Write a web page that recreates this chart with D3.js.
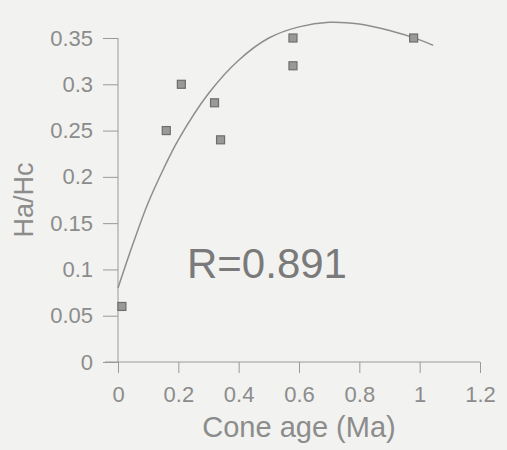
<!DOCTYPE html>
<html>
<head>
<meta charset="utf-8">
<script src="https://cdn.jsdelivr.net/npm/d3@7"></script>
<style>
  body { margin: 0; background: #f2f2f0; }
  svg { display: block; }
  .tick text { font-family: "Liberation Sans", Arial, sans-serif; fill: #8c8c8c; }
  .tick line { stroke: #9a9a9a; }
</style>
</head>
<body>
<div id="chart"></div>
<script>
// data
var coneAge = [0.013, 0.16, 0.21, 0.32, 0.34, 0.58, 0.58, 0.98];
var haHc = [0.06, 0.25, 0.30, 0.28, 0.24, 0.35, 0.32, 0.35];

// fitted curve
var fitX = [0, 0.05, 0.1, 0.15, 0.2, 0.3, 0.4, 0.5, 0.6, 0.7, 0.8, 0.9, 1.0, 1.045];
var fitY = [0.080, 0.128, 0.172, 0.208, 0.240, 0.290, 0.326, 0.350, 0.362, 0.367, 0.365, 0.358, 0.348, 0.342];

var xTicks = [0, 0.2, 0.4, 0.6, 0.8, 1, 1.2];
var yTicks = [0, 0.05, 0.1, 0.15, 0.2, 0.25, 0.3, 0.35];

var svgWidth = 507;
var svgHeight = 450;

var svg = d3.select("#chart")
  .append("svg")
  .attr("width", svgWidth)
  .attr("height", svgHeight);

var xScale = d3.scaleLinear().domain([0, 1.2]).range([118, 480]);
var yScale = d3.scaleLinear().domain([0, 0.35]).range([362, 38]);

var fmt = function (d) { return String(d); };

// x axis
var xAxis = svg.append("g")
  .attr("transform", `translate(0, ${yScale(0)})`)
  .call(d3.axisBottom(xScale).tickValues(xTicks).tickFormat(fmt)
    .tickSize(11).tickSizeOuter(0).tickPadding(13));
xAxis.select(".domain").remove();
xAxis.selectAll("text").attr("font-size", "22px");

// y axis
var yAxis = svg.append("g")
  .attr("transform", `translate(${xScale(0)}, 0)`)
  .call(d3.axisLeft(yScale).tickValues(yTicks).tickFormat(fmt)
    .tickSize(15).tickSizeOuter(0).tickPadding(10));
yAxis.select(".domain").remove();
yAxis.selectAll("text").attr("font-size", "22px");

// axis lines
svg.append("line")
  .attr("x1", xScale(0) - 13).attr("x2", xScale(1.2))
  .attr("y1", yScale(0)).attr("y2", yScale(0))
  .attr("stroke", "#9a9a9a");
svg.append("line")
  .attr("x1", xScale(0)).attr("x2", xScale(0))
  .attr("y1", yScale(0.35)).attr("y2", yScale(0))
  .attr("stroke", "#9a9a9a");

// fitted curve
var fitData = fitX.map(function (x, i) { return { x: x, y: fitY[i] }; });
var line = d3.line()
  .x(d => xScale(d.x))
  .y(d => yScale(d.y))
  .curve(d3.curveCatmullRom);

svg.append("path")
  .datum(fitData)
  .attr("d", line)
  .attr("fill", "none")
  .attr("stroke", "#8e8e8e")
  .attr("stroke-width", 1.5);

// points
var pts = coneAge.map(function (x, i) { return { x: x, y: haHc[i] }; });
svg.selectAll(".pt")
  .data(pts)
  .enter()
  .append("rect")
  .attr("class", "pt")
  .attr("x", d => xScale(d.x) - 4)
  .attr("y", d => yScale(d.y) - 4)
  .attr("width", 8)
  .attr("height", 8)
  .attr("fill", "#999")
  .attr("stroke", "#6e6e6e")
  .attr("stroke-width", 1.2);

// labels
svg.append("text")
  .attr("x", 299)
  .attr("y", 437)
  .attr("text-anchor", "middle")
  .attr("font-family", "Liberation Sans, Arial, sans-serif")
  .attr("font-size", "29px")
  .attr("fill", "#8c8c8c")
  .text("Cone age (Ma)");

svg.append("text")
  .attr("transform", "translate(33, 200) rotate(-90)")
  .attr("text-anchor", "middle")
  .attr("font-family", "Liberation Sans, Arial, sans-serif")
  .attr("font-size", "27px")
  .attr("fill", "#8c8c8c")
  .text("Ha/Hc");

svg.append("text")
  .attr("x", 187)
  .attr("y", 278)
  .attr("font-family", "Liberation Sans, Arial, sans-serif")
  .attr("font-size", "42px")
  .attr("fill", "#7a7a7a")
  .text("R=0.891");
</script>
</body>
</html>
